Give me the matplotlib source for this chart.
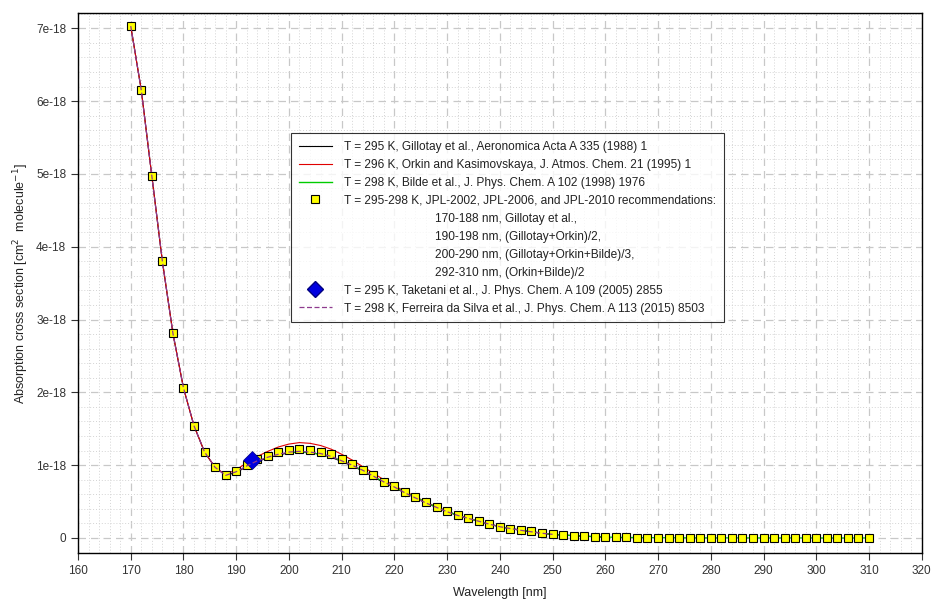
import numpy as np
import matplotlib
matplotlib.use("Agg")
import matplotlib.pyplot as plt
from matplotlib.lines import Line2D
from matplotlib.ticker import MultipleLocator, FuncFormatter

plt.rcParams['font.family'] = ['Liberation Sans', 'DejaVu Sans']

# cross sections in units of 1e-18 cm2 molecule-1
wl_gillotay = np.arange(170, 262, 2)
xs_gillotay = [7.03, 6.15, 4.97, 3.80, 2.81, 2.06, 1.54, 1.18, 0.97, 0.86,
               0.90, 0.98, 1.05, 1.10, 1.14, 1.17, 1.18, 1.17, 1.15, 1.11,
               1.05, 0.99, 0.92, 0.84, 0.76, 0.69, 0.62, 0.55, 0.48, 0.42,
               0.36, 0.31, 0.27, 0.23, 0.19, 0.155, 0.13, 0.105, 0.085, 0.065,
               0.05, 0.04, 0.032, 0.025, 0.018, 0.013]

wl_orkin = np.arange(170, 262, 2)
xs_orkin = [7.03, 6.15, 4.97, 3.80, 2.81, 2.06, 1.54, 1.18, 0.97, 0.87,
            0.94, 1.03, 1.12, 1.19, 1.25, 1.29, 1.31, 1.30, 1.27, 1.22,
            1.15, 1.07, 0.98, 0.89, 0.80, 0.72, 0.64, 0.57, 0.49, 0.43,
            0.37, 0.31, 0.27, 0.23, 0.19, 0.155, 0.13, 0.105, 0.085, 0.065,
            0.05, 0.04, 0.032, 0.025, 0.018, 0.013]

wl_bilde = np.arange(200, 312, 2)
xs_bilde = [1.17, 1.18, 1.17, 1.15, 1.12, 1.06, 1.00, 0.93, 0.85, 0.77,
            0.70, 0.63, 0.56, 0.49, 0.42, 0.37, 0.31, 0.27, 0.23, 0.19,
            0.155, 0.13, 0.11, 0.09, 0.065, 0.05, 0.04, 0.032, 0.025, 0.018,
            0.013, 0.010, 0.008, 0.006, 0.005, 0.004, 0.0035, 0.003, 0.0025, 0.002,
            0.0018, 0.0015, 0.0013, 0.0011, 0.001, 0.0009, 0.0008, 0.0007, 0.0006, 0.0005,
            0.0005, 0.0004, 0.0004, 0.0003, 0.0003, 0.0003]

wl_jpl = np.arange(170, 312, 2)
xs_jpl = [7.03, 6.15, 4.97, 3.80, 2.81, 2.06, 1.54, 1.18, 0.97, 0.865,
          0.92, 1.00, 1.08, 1.13, 1.18, 1.21, 1.22, 1.21, 1.18, 1.15,
          1.08, 1.02, 0.94, 0.86, 0.77, 0.71, 0.63, 0.56, 0.49, 0.42,
          0.37, 0.31, 0.27, 0.23, 0.19, 0.155, 0.13, 0.11, 0.09, 0.065,
          0.05, 0.04, 0.032, 0.025, 0.018, 0.013, 0.010, 0.008, 0.006, 0.005,
          0.004, 0.0035, 0.003, 0.0025, 0.002, 0.0018, 0.0015, 0.0013, 0.0011, 0.001,
          0.0009, 0.0008, 0.0007, 0.0006, 0.0005, 0.0005, 0.0004, 0.0004, 0.0003, 0.0003,
          0.0003]

wl_taketani = [193]
xs_taketani = [1.07]

wl_ferreira = np.arange(170, 252, 2)
xs_ferreira = [7.03, 6.15, 4.97, 3.80, 2.81, 2.06, 1.54, 1.18, 0.97, 0.86,
               0.91, 0.99, 1.06, 1.11, 1.15, 1.18, 1.19, 1.18, 1.16, 1.12,
               1.06, 1.00, 0.93, 0.85, 0.77, 0.70, 0.62, 0.55, 0.48, 0.42,
               0.36, 0.31, 0.27, 0.23, 0.19, 0.155, 0.13, 0.105, 0.085, 0.065,
               0.05]

labels = [
    "T = 295 K, Gillotay et al., Aeronomica Acta A 335 (1988) 1",
    "T = 296 K, Orkin and Kasimovskaya, J. Atmos. Chem. 21 (1995) 1",
    "T = 298 K, Bilde et al., J. Phys. Chem. A 102 (1998) 1976",
    "T = 295-298 K, JPL-2002, JPL-2006, and JPL-2010 recommendations:",
    "170-188 nm, Gillotay et al.,",
    "190-198 nm, (Gillotay+Orkin)/2,",
    "200-290 nm, (Gillotay+Orkin+Bilde)/3,",
    "292-310 nm, (Orkin+Bilde)/2",
    "T = 295 K, Taketani et al., J. Phys. Chem. A 109 (2005) 2855",
    "T = 298 K, Ferreira da Silva et al., J. Phys. Chem. A 113 (2015) 8503",
]

purple = '#8e3a8e'
green = '#00cc00'

fig = plt.figure(figsize=(9.31, 6.02), dpi=100)
ax = fig.add_axes([0.0838, 0.0814, 0.9062, 0.8966])

ax.plot(wl_gillotay, xs_gillotay, color='black', lw=0.8, zorder=3)
ax.plot(wl_orkin, xs_orkin, color='#e00000', lw=0.8, zorder=3)
ax.plot(wl_bilde, xs_bilde, color=green, lw=0.9, zorder=3)
ax.plot(wl_jpl, xs_jpl, 's', color='#ffff00', mec='black', mew=0.8, ms=6.2, zorder=4)
ax.plot(wl_taketani, xs_taketani, 'D', color='#0000e0', mec='#000080', mew=0.5, ms=9, zorder=5)
ax.plot(wl_ferreira, xs_ferreira, color=purple, lw=0.9, ls=(0, (4, 2)), zorder=6)

ax.set_xlim(160, 320)
ax.set_ylim(-0.206, 7.206)
ax.xaxis.set_major_locator(MultipleLocator(10))
ax.xaxis.set_minor_locator(MultipleLocator(2))
ax.yaxis.set_major_locator(MultipleLocator(1))
ax.yaxis.set_minor_locator(MultipleLocator(0.2))
ax.yaxis.set_major_formatter(FuncFormatter(lambda v, p: "0" if abs(v) < 1e-9 else "%de-18" % round(v)))

ax.grid(which='major', color='#c8c8c8', ls=(0, (6, 4)), lw=0.9)
ax.grid(which='minor', color='#d4d4d4', ls=(0, (1, 2)), lw=0.7)
ax.set_axisbelow(True)
ax.tick_params(which='major', length=5, width=0.8, labelsize=8.5, colors='#333333')
ax.tick_params(which='minor', length=0)
for s in ax.spines.values():
    s.set_linewidth(1.0)

ax.set_xlabel("Wavelength [nm]", fontsize=9, color='#222222', labelpad=7)
ax.set_ylabel(r"Absorption cross section [cm$^2$  molecule$^{-1}$]", fontsize=9, color='#222222', labelpad=4)

blank = Line2D([], [], ls='none')
handles = [
    Line2D([], [], color='black', lw=0.8),
    Line2D([], [], color='#e00000', lw=0.8),
    Line2D([], [], color=green, lw=1.0),
    Line2D([], [], ls='none', marker='s', color='#ffff00', mec='black', mew=0.8, ms=5.5),
    blank, blank, blank, blank,
    Line2D([], [], ls='none', marker='D', color='#0000e0', mec='#000080', ms=8),
    Line2D([], [], color=purple, lw=0.9, ls=(0, (4, 2))),
]
leg_labels = labels[:4] + [" " * 28 + t for t in labels[4:8]] + labels[8:]
leg = fig.legend(handles, leg_labels, loc='upper left',
                 bbox_to_anchor=(291 / 931, 1 - 133 / 602), bbox_transform=fig.transFigure,
                 borderaxespad=0, fontsize=8.6, frameon=True, fancybox=False,
                 handlelength=2.8, handletextpad=1.0, labelspacing=0.5,
                 borderpad=0.65)
leg.get_frame().set_edgecolor('black')
leg.get_frame().set_linewidth(0.8)
for t in leg.get_texts():
    t.set_color('#222222')

fig.savefig("out.png", dpi=100, facecolor='white')
